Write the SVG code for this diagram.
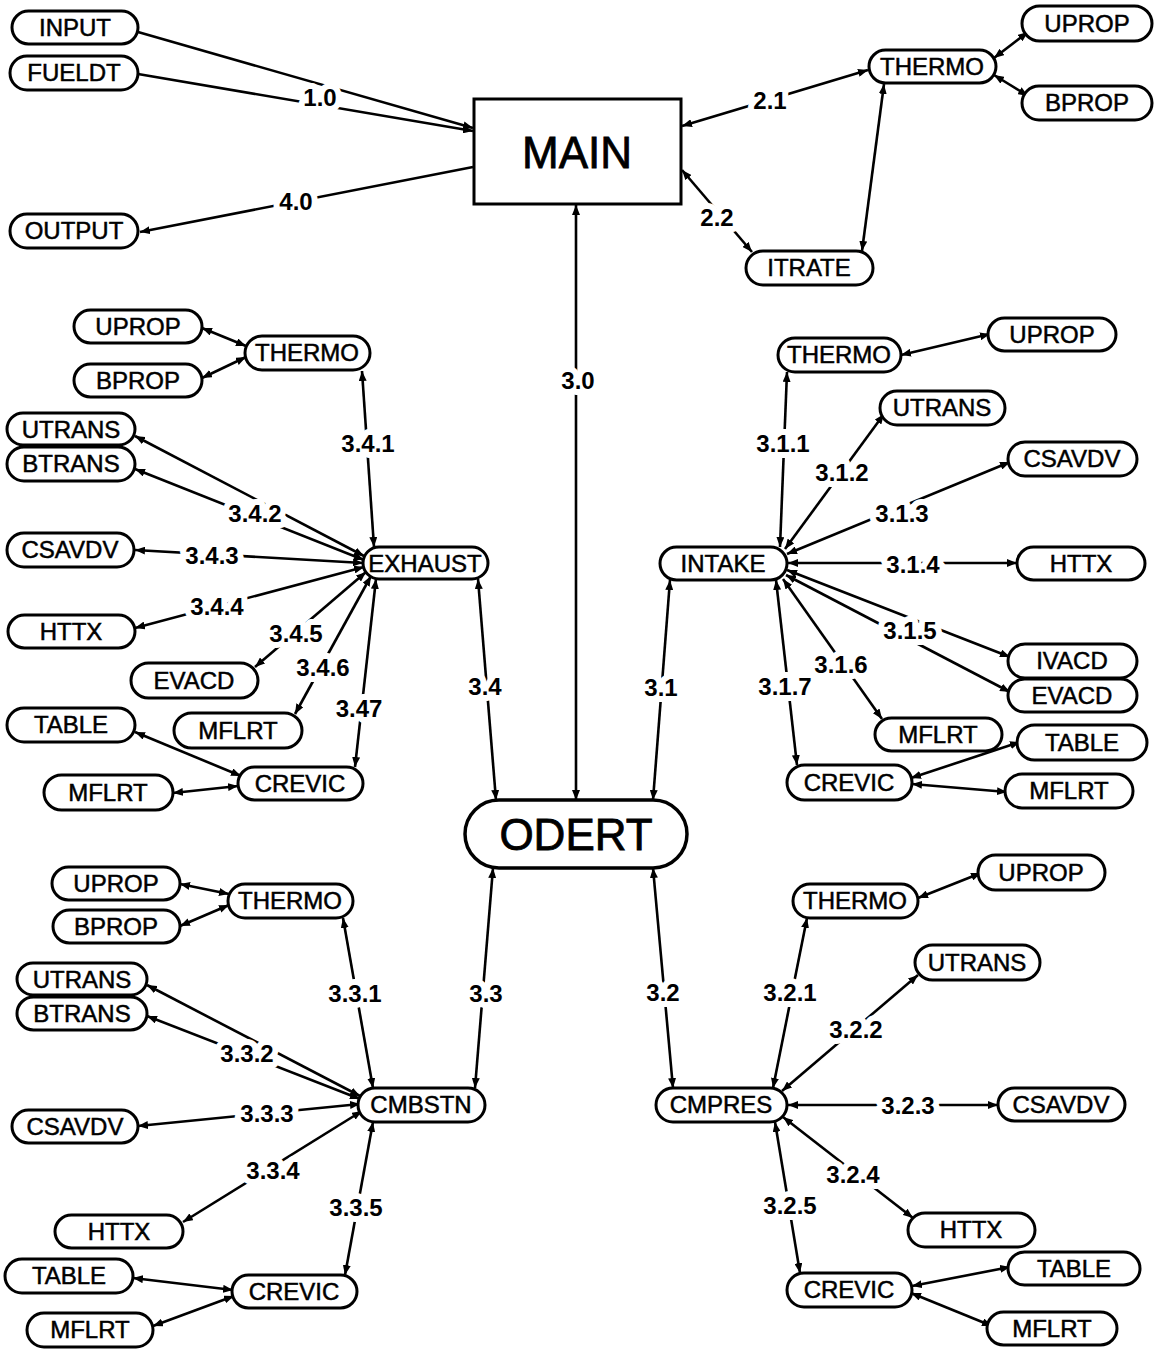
<svg xmlns="http://www.w3.org/2000/svg" width="1165" height="1351" viewBox="0 0 1165 1351">
<style>
.n rect{fill:#fff;stroke:#000;stroke-width:3}
.n text{font-family:"Liberation Sans",Arial,sans-serif;font-size:24px;text-anchor:middle;fill:#000;stroke:#000;stroke-width:0.5}
.big text{font-size:44px;stroke-width:0.8}
#connectors line{stroke:#000;stroke-width:2.6;fill:none}
.b{marker-start:url(#a);marker-end:url(#a)}
.e{marker-end:url(#a)}
.s{marker-start:url(#a)}
.lb{font-family:"Liberation Sans",Arial,sans-serif;font-weight:bold;font-size:24px;text-anchor:middle;fill:#000;stroke:#fff;stroke-width:12;paint-order:stroke;stroke-linejoin:round}
</style>
<defs>
<marker id="a" viewBox="0 0 10 8" refX="10" refY="4" markerWidth="10" markerHeight="8" markerUnits="userSpaceOnUse" orient="auto-start-reverse">
<path d="M0,0 L10,4 L0,8 z" fill="#000"/>
</marker>
</defs>
<rect width="1165" height="1351" fill="#fff"/>
<g id="connectors">
<line class="e" x1="138" y1="32" x2="473" y2="128"/>
<line class="e" x1="138" y1="74" x2="473" y2="131"/>
<line class="s" x1="140" y1="232" x2="473" y2="167"/>
<line class="b" x1="682" y1="126" x2="868" y2="70"/>
<line class="b" x1="682" y1="170" x2="752" y2="252"/>
<line class="b" x1="884" y1="84" x2="862" y2="251"/>
<line class="b" x1="994" y1="58" x2="1028" y2="32"/>
<line class="b" x1="994" y1="75" x2="1028" y2="96"/>
<line class="b" x1="576" y1="205" x2="576" y2="800"/>
<line class="b" x1="362" y1="371" x2="374" y2="547"/>
<line class="b" x1="135" y1="436" x2="364" y2="556"/>
<line class="b" x1="135" y1="469" x2="364" y2="560"/>
<line class="b" x1="135" y1="550" x2="363" y2="563"/>
<line class="b" x1="135" y1="628" x2="364" y2="567"/>
<line class="b" x1="255" y1="667" x2="366" y2="572"/>
<line class="b" x1="295" y1="714" x2="371" y2="576"/>
<line class="b" x1="355" y1="767" x2="376" y2="579"/>
<line class="b" x1="478" y1="579" x2="496" y2="800"/>
<line class="b" x1="202" y1="328" x2="246" y2="346"/>
<line class="b" x1="202" y1="378" x2="246" y2="357"/>
<line class="b" x1="135" y1="732" x2="241" y2="776"/>
<line class="b" x1="173" y1="793" x2="238" y2="786"/>
<line class="b" x1="780" y1="547" x2="787" y2="372"/>
<line class="b" x1="785" y1="549" x2="884" y2="414"/>
<line class="b" x1="787" y1="554" x2="1010" y2="462"/>
<line class="b" x1="788" y1="563" x2="1017" y2="563"/>
<line class="b" x1="787" y1="570" x2="1010" y2="657"/>
<line class="b" x1="786" y1="575" x2="1010" y2="692"/>
<line class="b" x1="783" y1="579" x2="882" y2="719"/>
<line class="b" x1="776" y1="580" x2="797" y2="765"/>
<line class="b" x1="670" y1="580" x2="653" y2="800"/>
<line class="b" x1="901" y1="355" x2="990" y2="334"/>
<line class="b" x1="911" y1="778" x2="1020" y2="742"/>
<line class="b" x1="912" y1="784" x2="1007" y2="792"/>
<line class="b" x1="343" y1="918" x2="373" y2="1088"/>
<line class="b" x1="493" y1="868" x2="475" y2="1088"/>
<line class="b" x1="147" y1="985" x2="360" y2="1096"/>
<line class="b" x1="147" y1="1016" x2="360" y2="1099"/>
<line class="b" x1="138" y1="1126" x2="360" y2="1104"/>
<line class="b" x1="183" y1="1222" x2="362" y2="1111"/>
<line class="b" x1="345" y1="1275" x2="373" y2="1122"/>
<line class="b" x1="180" y1="884" x2="229" y2="894"/>
<line class="b" x1="180" y1="926" x2="229" y2="905"/>
<line class="b" x1="133" y1="1278" x2="233" y2="1290"/>
<line class="b" x1="153" y1="1326" x2="234" y2="1296"/>
<line class="b" x1="653" y1="868" x2="673" y2="1088"/>
<line class="b" x1="773" y1="1088" x2="807" y2="918"/>
<line class="b" x1="782" y1="1091" x2="918" y2="975"/>
<line class="b" x1="788" y1="1105" x2="998" y2="1105"/>
<line class="b" x1="783" y1="1117" x2="913" y2="1218"/>
<line class="b" x1="775" y1="1122" x2="800" y2="1273"/>
<line class="b" x1="918" y1="898" x2="981" y2="873"/>
<line class="b" x1="912" y1="1286" x2="1010" y2="1267"/>
<line class="b" x1="911" y1="1293" x2="992" y2="1326"/>
<g id="labels">
<text class="lb" x="320" y="106">1.0</text>
<text class="lb" x="296" y="210">4.0</text>
<text class="lb" x="770" y="109">2.1</text>
<text class="lb" x="717" y="226">2.2</text>
<text class="lb" x="578" y="389">3.0</text>
<text class="lb" x="368" y="452">3.4.1</text>
<text class="lb" x="255" y="522">3.4.2</text>
<text class="lb" x="212" y="564">3.4.3</text>
<text class="lb" x="217" y="615">3.4.4</text>
<text class="lb" x="296" y="642">3.4.5</text>
<text class="lb" x="323" y="676">3.4.6</text>
<text class="lb" x="359" y="717">3.47</text>
<text class="lb" x="485" y="695">3.4</text>
<text class="lb" x="783" y="452">3.1.1</text>
<text class="lb" x="842" y="481">3.1.2</text>
<text class="lb" x="902" y="522">3.1.3</text>
<text class="lb" x="913" y="573">3.1.4</text>
<text class="lb" x="910" y="639">3.1.5</text>
<text class="lb" x="841" y="673">3.1.6</text>
<text class="lb" x="785" y="695">3.1.7</text>
<text class="lb" x="661" y="696">3.1</text>
<text class="lb" x="355" y="1002">3.3.1</text>
<text class="lb" x="486" y="1002">3.3</text>
<text class="lb" x="247" y="1062">3.3.2</text>
<text class="lb" x="267" y="1122">3.3.3</text>
<text class="lb" x="273" y="1179">3.3.4</text>
<text class="lb" x="356" y="1216">3.3.5</text>
<text class="lb" x="663" y="1001">3.2</text>
<text class="lb" x="790" y="1001">3.2.1</text>
<text class="lb" x="856" y="1038">3.2.2</text>
<text class="lb" x="908" y="1114">3.2.3</text>
<text class="lb" x="853" y="1183">3.2.4</text>
<text class="lb" x="790" y="1214">3.2.5</text>
</g>
</g>
<g id="INPUT" class="n"><rect x="12" y="11" width="126" height="33" rx="16.5"/><text x="75" y="36">INPUT</text></g>
<g id="FUELDT" class="n"><rect x="10" y="56" width="128" height="34" rx="17"/><text x="74" y="81">FUELDT</text></g>
<g id="OUTPUT" class="n"><rect x="10" y="214" width="128" height="34" rx="17"/><text x="74" y="239">OUTPUT</text></g>
<g id="MAIN" class="n big"><rect x="474" y="99" width="207" height="105" rx="0"/><text x="577" y="168">MAIN</text></g>
<g id="THERMO_T" class="n"><rect x="869" y="50" width="127" height="33" rx="16.5"/><text x="932" y="75">THERMO</text></g>
<g id="UPROP_T" class="n"><rect x="1022" y="6" width="130" height="35" rx="17.5"/><text x="1087" y="32">UPROP</text></g>
<g id="BPROP_T" class="n"><rect x="1022" y="86" width="130" height="34" rx="17"/><text x="1087" y="111">BPROP</text></g>
<g id="ITRATE" class="n"><rect x="746" y="251" width="127" height="34" rx="17"/><text x="809" y="276">ITRATE</text></g>
<g id="UPROP_E" class="n"><rect x="74" y="310" width="128" height="33" rx="16.5"/><text x="138" y="335">UPROP</text></g>
<g id="THERMO_E" class="n"><rect x="245" y="336" width="125" height="34" rx="17"/><text x="307" y="361">THERMO</text></g>
<g id="BPROP_E" class="n"><rect x="74" y="364" width="128" height="33" rx="16.5"/><text x="138" y="389">BPROP</text></g>
<g id="UTRANS_E" class="n"><rect x="7" y="413" width="128" height="32" rx="16"/><text x="71" y="438">UTRANS</text></g>
<g id="BTRANS_E" class="n"><rect x="7" y="447" width="128" height="34" rx="17"/><text x="71" y="472">BTRANS</text></g>
<g id="CSAVDV_E" class="n"><rect x="7" y="533" width="127" height="34" rx="17"/><text x="70" y="558">CSAVDV</text></g>
<g id="EXHAUST" class="n"><rect x="363" y="547" width="125" height="32" rx="16"/><text x="425" y="572">EXHAUST</text></g>
<g id="HTTX_E" class="n"><rect x="8" y="615" width="127" height="33" rx="16.5"/><text x="71" y="640">HTTX</text></g>
<g id="EVACD_E" class="n"><rect x="131" y="663" width="127" height="35" rx="17.5"/><text x="194" y="689">EVACD</text></g>
<g id="MFLRT_E1" class="n"><rect x="174" y="713" width="128" height="35" rx="17.5"/><text x="238" y="739">MFLRT</text></g>
<g id="TABLE_E" class="n"><rect x="7" y="708" width="128" height="34" rx="17"/><text x="71" y="733">TABLE</text></g>
<g id="MFLRT_E2" class="n"><rect x="44" y="775" width="129" height="35" rx="17.5"/><text x="108" y="801">MFLRT</text></g>
<g id="CREVIC_E" class="n"><rect x="238" y="767" width="125" height="33" rx="16.5"/><text x="300" y="792">CREVIC</text></g>
<g id="THERMO_I" class="n"><rect x="778" y="338" width="123" height="34" rx="17"/><text x="839" y="363">THERMO</text></g>
<g id="UPROP_I" class="n"><rect x="988" y="318" width="128" height="33" rx="16.5"/><text x="1052" y="343">UPROP</text></g>
<g id="UTRANS_I" class="n"><rect x="880" y="391" width="125" height="34" rx="17"/><text x="942" y="416">UTRANS</text></g>
<g id="CSAVDV_I" class="n"><rect x="1008" y="442" width="129" height="34" rx="17"/><text x="1072" y="467">CSAVDV</text></g>
<g id="INTAKE" class="n"><rect x="660" y="547" width="127" height="33" rx="16.5"/><text x="723" y="572">INTAKE</text></g>
<g id="HTTX_I" class="n"><rect x="1017" y="547" width="128" height="33" rx="16.5"/><text x="1081" y="572">HTTX</text></g>
<g id="IVACD" class="n"><rect x="1008" y="644" width="129" height="34" rx="17"/><text x="1072" y="669">IVACD</text></g>
<g id="EVACD_I" class="n"><rect x="1008" y="679" width="129" height="33" rx="16.5"/><text x="1072" y="704">EVACD</text></g>
<g id="MFLRT_I1" class="n"><rect x="875" y="718" width="127" height="33" rx="16.5"/><text x="938" y="743">MFLRT</text></g>
<g id="TABLE_I" class="n"><rect x="1017" y="725" width="130" height="35" rx="17.5"/><text x="1082" y="751">TABLE</text></g>
<g id="CREVIC_I" class="n"><rect x="787" y="765" width="125" height="35" rx="17.5"/><text x="849" y="791">CREVIC</text></g>
<g id="MFLRT_I2" class="n"><rect x="1005" y="774" width="128" height="34" rx="17"/><text x="1069" y="799">MFLRT</text></g>
<g id="ODERT" class="n big"><rect x="465" y="800" width="222" height="68" rx="34" style="stroke-width:3.5"/><text x="576" y="850">ODERT</text></g>
<g id="UPROP_C" class="n"><rect x="52" y="867" width="128" height="33" rx="16.5"/><text x="116" y="892">UPROP</text></g>
<g id="THERMO_C" class="n"><rect x="228" y="884" width="125" height="34" rx="17"/><text x="290" y="909">THERMO</text></g>
<g id="BPROP_C" class="n"><rect x="53" y="910" width="127" height="33" rx="16.5"/><text x="116" y="935">BPROP</text></g>
<g id="UTRANS_C" class="n"><rect x="17" y="963" width="130" height="32" rx="16"/><text x="82" y="988">UTRANS</text></g>
<g id="BTRANS_C" class="n"><rect x="17" y="997" width="130" height="33" rx="16.5"/><text x="82" y="1022">BTRANS</text></g>
<g id="CMBSTN" class="n"><rect x="358" y="1088" width="127" height="34" rx="17"/><text x="421" y="1113">CMBSTN</text></g>
<g id="CSAVDV_C" class="n"><rect x="12" y="1110" width="126" height="33" rx="16.5"/><text x="75" y="1135">CSAVDV</text></g>
<g id="HTTX_C" class="n"><rect x="55" y="1215" width="128" height="33" rx="16.5"/><text x="119" y="1240">HTTX</text></g>
<g id="TABLE_C" class="n"><rect x="5" y="1259" width="128" height="34" rx="17"/><text x="69" y="1284">TABLE</text></g>
<g id="CREVIC_C" class="n"><rect x="232" y="1275" width="125" height="33" rx="16.5"/><text x="294" y="1300">CREVIC</text></g>
<g id="MFLRT_C" class="n"><rect x="27" y="1313" width="126" height="34" rx="17"/><text x="90" y="1338">MFLRT</text></g>
<g id="THERMO_P" class="n"><rect x="793" y="884" width="125" height="34" rx="17"/><text x="855" y="909">THERMO</text></g>
<g id="UPROP_P" class="n"><rect x="978" y="855" width="127" height="35" rx="17.5"/><text x="1041" y="881">UPROP</text></g>
<g id="UTRANS_P" class="n"><rect x="915" y="945" width="125" height="35" rx="17.5"/><text x="977" y="971">UTRANS</text></g>
<g id="CMPRES" class="n"><rect x="656" y="1088" width="131" height="34" rx="17"/><text x="721" y="1113">CMPRES</text></g>
<g id="CSAVDV_P" class="n"><rect x="998" y="1088" width="127" height="33" rx="16.5"/><text x="1061" y="1113">CSAVDV</text></g>
<g id="HTTX_P" class="n"><rect x="908" y="1213" width="127" height="34" rx="17"/><text x="971" y="1238">HTTX</text></g>
<g id="TABLE_P" class="n"><rect x="1008" y="1252" width="132" height="33" rx="16.5"/><text x="1074" y="1277">TABLE</text></g>
<g id="CREVIC_P" class="n"><rect x="787" y="1273" width="125" height="34" rx="17"/><text x="849" y="1298">CREVIC</text></g>
<g id="MFLRT_P" class="n"><rect x="987" y="1312" width="130" height="33" rx="16.5"/><text x="1052" y="1337">MFLRT</text></g>
</svg>
